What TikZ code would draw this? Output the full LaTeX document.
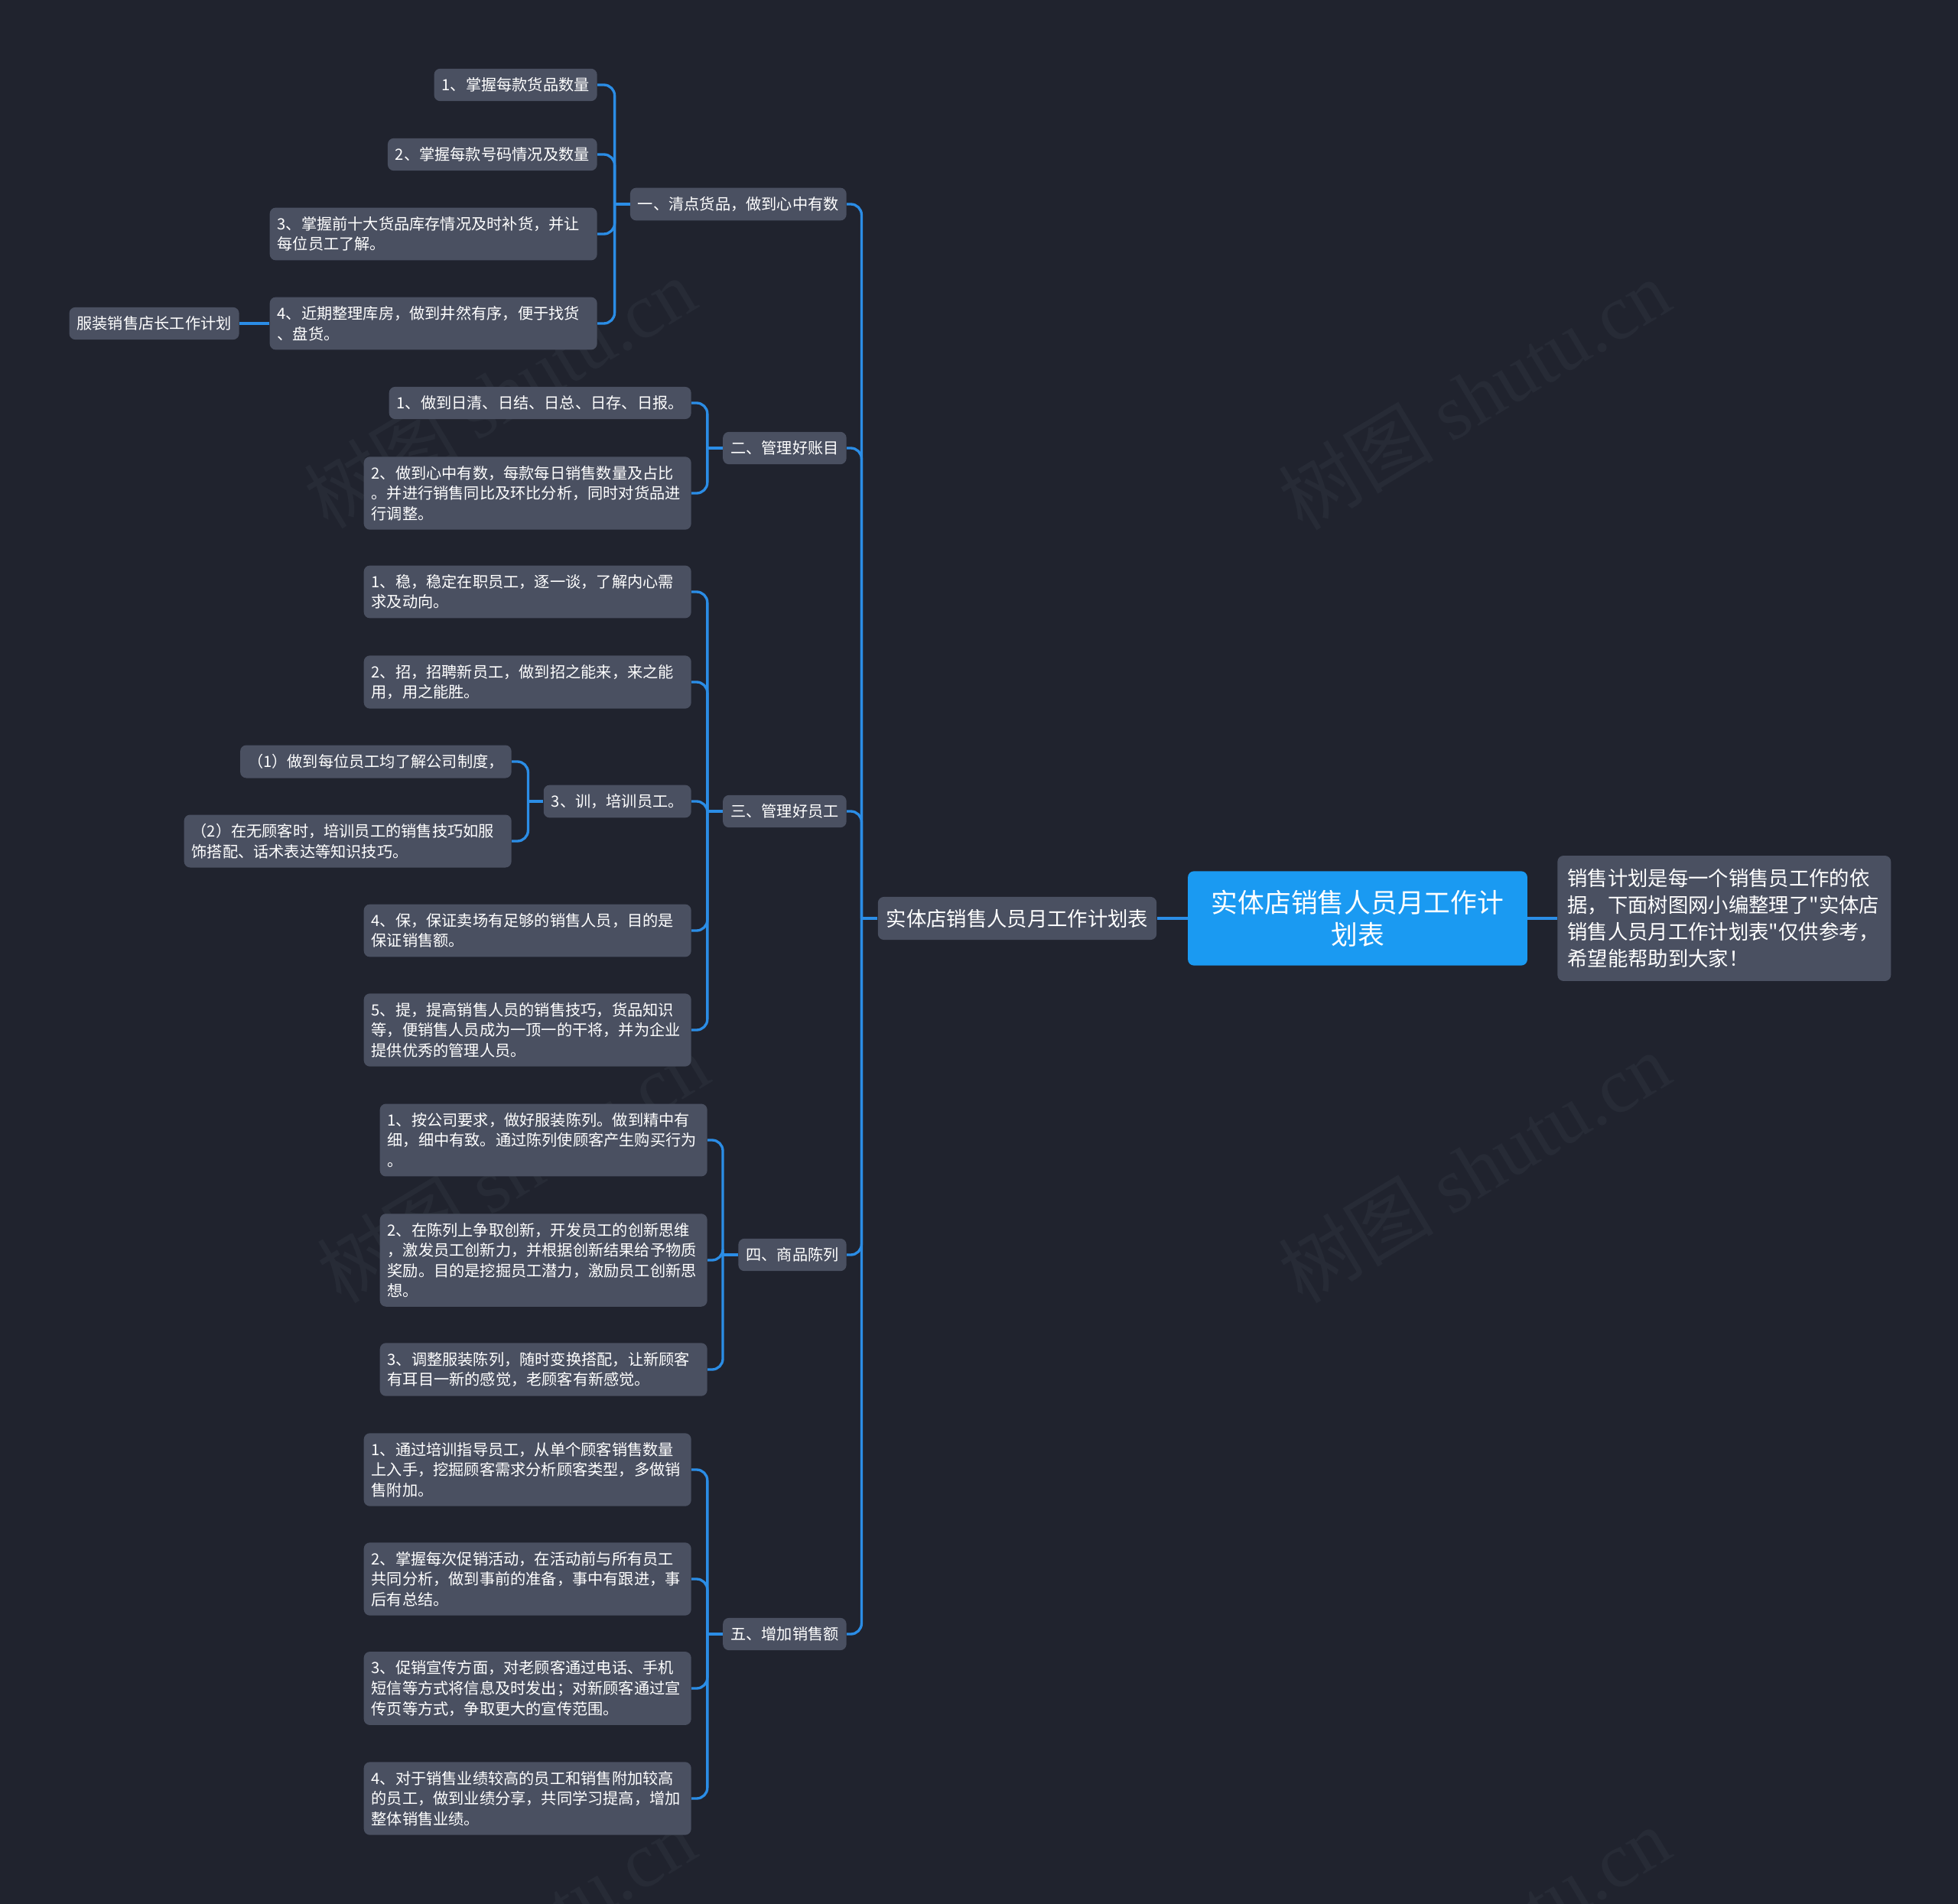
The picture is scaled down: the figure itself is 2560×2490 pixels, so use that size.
\documentclass[tikz,border=0pt]{standalone}
\usepackage{fontspec}
\setmainfont{Noto Sans CJK SC}
\newfontfamily\cjk{Noto Sans CJK SC}
\newfontfamily\wmfont{Liberation Serif}
\usepackage{tikz}
\usetikzlibrary{calc}
\definecolor{bgnavy}{HTML}{20232E}
\definecolor{nodegray}{HTML}{4A5061}
\definecolor{linkblue}{HTML}{2B8DE6}
\definecolor{rootblue}{HTML}{1A9AF2}
\definecolor{wmgray}{HTML}{272B36}
\begin{document}
\begin{tikzpicture}[x=0.02cm,y=-0.02cm,
  leaf/.style={fill=nodegray,text=white,rounded corners=4.5pt,inner xsep=5.7pt,inner ysep=6.7pt,
    font=\cjk\fontsize{11.5pt}{15.1pt}\selectfont,align=left},
  wide/.style={leaf,text width=8.16cm},
  mid/.style={fill=nodegray,text=white,rounded corners=4.5pt,inner xsep=6.2pt,inner ysep=9pt,
    font=\cjk\fontsize{15pt}{19.8pt}\selectfont,align=left},
  rootbox/.style={fill=rootblue,text=white,rounded corners=4.5pt,inner xsep=12.5pt,inner ysep=14pt,
    text width=8cm,align=center,font=\cjk\fontsize{19.8pt}{23.8pt}\selectfont},
  link/.style={draw=linkblue,line width=1.9pt,rounded corners=8pt},
  watermark/.style={text=wmgray,rotate=31,font=\cjk\fontsize{58pt}{60pt}\selectfont}]
\fill[bgnavy] (0,0) rectangle (2560,2490);
\useasboundingbox (0,0) rectangle (2560,2490);
\foreach \wx/\wy [count=\i] in {653/514,1927/516,670/1527,1927/1527,653/2540,1927/2540}{
  \node[watermark] (wm\i) at (\wx,\wy) {树图 {\wmfont shutu.cn}};
}

\node[rootbox] (root) at (1775,1201) {实体店销售人员月工作计\\划表};
\node[mid,text width=8.2cm,inner xsep=7.4pt,inner ysep=10pt,anchor=west] (desc) at (2036,1201)
  {销售计划是每一个销售员工作的依\\据，下面树图网小编整理了"实体店\\销售人员月工作计划表"仅供参考，\\希望能帮助到大家！};
\node[mid] (title) at (1330,1201) {实体店销售人员月工作计划表};

\node[leaf,anchor=east] (g1) at (1107,267) {一、清点货品，做到心中有数};
\node[leaf,anchor=east] (g2) at (1107,586) {二、管理好账目};
\node[leaf,anchor=east] (g3) at (1107,1061) {三、管理好员工};
\node[leaf,anchor=east] (g4) at (1107,1641) {四、商品陈列};
\node[leaf,anchor=east] (g5) at (1107,2137) {五、增加销售额};

\node[leaf,anchor=east] (g1a) at (781,111) {1、掌握每款货品数量};
\node[leaf,anchor=east] (g1b) at (781,202) {2、掌握每款号码情况及数量};
\node[wide,anchor=east] (g1c) at (781,306) {3、掌握前十大货品库存情况及时补货，并让\\每位员工了解。};
\node[wide,anchor=east] (g1d) at (781,423) {4、近期整理库房，做到井然有序，便于找货\\、盘货。};
\node[leaf,anchor=east] (g1x) at (313,423) {服装销售店长工作计划};

\node[leaf,anchor=east] (g2a) at (904,527) {1、做到日清、日结、日总、日存、日报。};
\node[wide,anchor=east] (g2b) at (904,645) {2、做到心中有数，每款每日销售数量及占比\\。并进行销售同比及环比分析，同时对货品进\\行调整。};

\node[wide,anchor=east] (g3a) at (904,774) {1、稳，稳定在职员工，逐一谈，了解内心需\\求及动向。};
\node[wide,anchor=east] (g3b) at (904,892) {2、招，招聘新员工，做到招之能来，来之能\\用，用之能胜。};
\node[leaf,anchor=east] (g3c) at (904,1048) {3、训，培训员工。};
\node[leaf,anchor=east] (g3c1) at (669,996) {（1）做到每位员工均了解公司制度，};
\node[wide,anchor=east] (g3c2) at (669,1100) {（2）在无顾客时，培训员工的销售技巧如服\\饰搭配、话术表达等知识技巧。};
\node[wide,anchor=east] (g3d) at (904,1217) {4、保，保证卖场有足够的销售人员，目的是\\保证销售额。};
\node[wide,anchor=east] (g3e) at (904,1347) {5、提，提高销售人员的销售技巧，货品知识\\等，便销售人员成为一顶一的干将，并为企业\\提供优秀的管理人员。};

\node[wide,anchor=east] (g4a) at (925,1491) {1、按公司要求，做好服装陈列。做到精中有\\细，细中有致。通过陈列使顾客产生购买行为\\。};
\node[wide,anchor=east] (g4b) at (925,1648) {2、在陈列上争取创新，开发员工的创新思维\\，激发员工创新力，并根据创新结果给予物质\\奖励。目的是挖掘员工潜力，激励员工创新思\\想。};
\node[wide,anchor=east] (g4c) at (925,1791) {3、调整服装陈列，随时变换搭配，让新顾客\\有耳目一新的感觉，老顾客有新感觉。};

\node[wide,anchor=east] (g5a) at (904,1922) {1、通过培训指导员工，从单个顾客销售数量\\上入手，挖掘顾客需求分析顾客类型，多做销\\售附加。};
\node[wide,anchor=east] (g5b) at (904,2065) {2、掌握每次促销活动，在活动前与所有员工\\共同分析，做到事前的准备，事中有跟进，事\\后有总结。};
\node[wide,anchor=east] (g5c) at (904,2208) {3、促销宣传方面，对老顾客通过电话、手机\\短信等方式将信息及时发出；对新顾客通过宣\\传页等方式，争取更大的宣传范围。};
\node[wide,anchor=east] (g5d) at (904,2352) {4、对于销售业绩较高的员工和销售附加较高\\的员工，做到业绩分享，共同学习提高，增加\\整体销售业绩。};

\draw[link] (root.west) -- (title.east);
\draw[link] (root.east) -- (desc.west);
\coordinate (s0) at ($(title.west)+(-21,0)$);
\draw[link] (title.west) -- (s0);
\foreach \g in {g1,g2,g3,g4,g5}{
  \draw[link] (\g.east) -| (s0);
}
\foreach \g/\kids in {g1/{a,b,c,d},g2/{a,b},g3/{a,b,c,d,e},g4/{a,b,c},g5/{a,b,c,d},g3c/{1,2}}{
  \coordinate (\g s) at ($(\g.west)+(-20,0)$);
  \draw[link] (\g.west) -- (\g s);
  \foreach \k in \kids{
    \draw[link] (\g\k.east) -| (\g s);
  }
}
\draw[link] (g1d.west) -- (g1x.east);
\end{tikzpicture}
\end{document}
